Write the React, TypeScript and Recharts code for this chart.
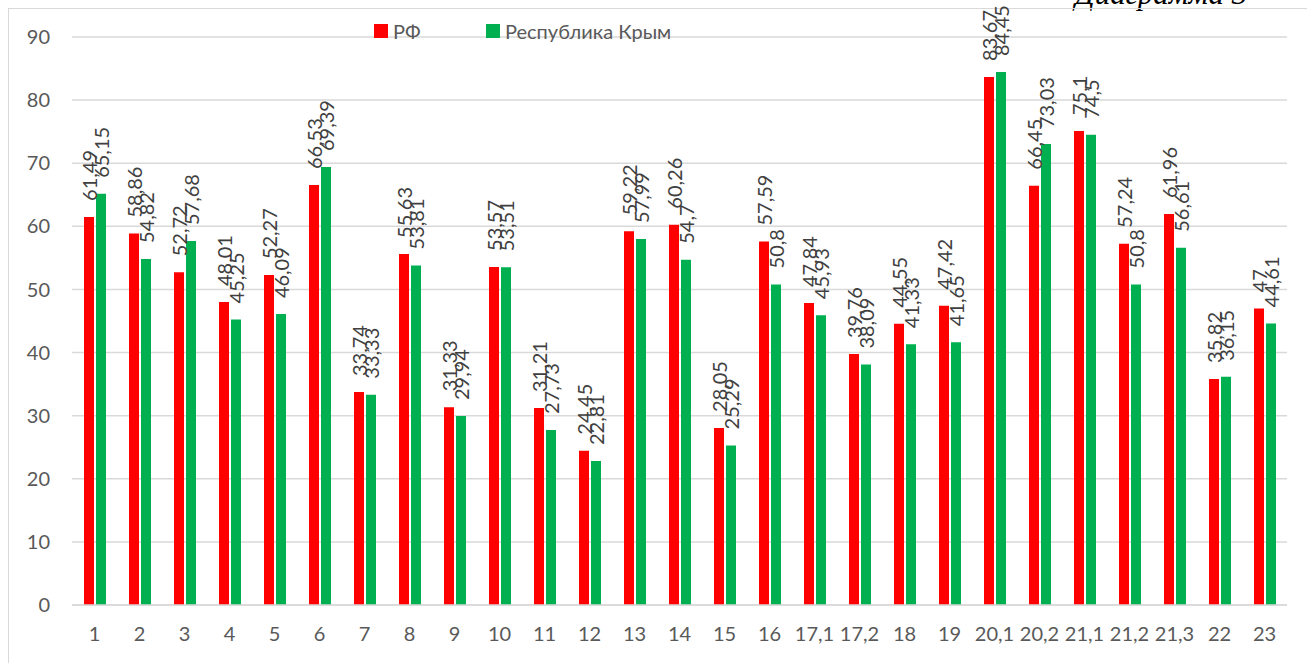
import { Bar, BarChart, CartesianGrid, LabelList, XAxis, YAxis } from "recharts";

const categories = [
  "1", "2", "3", "4", "5", "6", "7", "8", "9", "10", "11", "12", "13", "14", "15", "16",
  "17,1", "17,2", "18", "19", "20,1", "20,2", "21,1", "21,2", "21,3", "22", "23",
];

const rfValues = [
  61.49, 58.86, 52.72, 48.01, 52.27, 66.53, 33.74, 55.63, 31.33, 53.57, 31.21, 24.45, 59.22, 60.26, 28.05, 57.59,
  47.84, 39.76, 44.55, 47.42, 83.67, 66.45, 75.1, 57.24, 61.96, 35.82, 47,
];

const crimeaValues = [
  65.15, 54.82, 57.68, 45.25, 46.09, 69.39, 33.33, 53.81, 29.94, 53.51, 27.73, 22.81, 57.99, 54.7, 25.29, 50.8,
  45.93, 38.09, 41.33, 41.65, 84.45, 73.03, 74.5, 50.8, 56.61, 36.15, 44.61,
];

const yTicks = [0, 10, 20, 30, 40, 50, 60, 70, 80, 90];

const seriesNames = ["РФ", "Республика Крым"];
const RED = "#FF0000";
const GREEN = "#00B050";
const FONT = "Lato, 'Noto Sans', sans-serif";

const data = categories.map((name, i) => ({
  name,
  rf: rfValues[i],
  crimea: crimeaValues[i],
}));

const fmt = (v: number) => String(v).replace(".", ",");

function RotatedLabel(props: any) {
  const { x, y, width, value } = props;
  const cx = x + width / 2;
  const ty = y - 16;
  return (
    <text
      x={cx}
      y={ty}
      transform={`rotate(-90 ${cx} ${ty})`}
      textAnchor="start"
      dominantBaseline="central"
      fontSize={20}
      fontFamily={FONT}
      fill="#404040"
    >
      {fmt(value)}
    </text>
  );
}

// legend sits above the plot without taking space from it, like in the source
function ChartLegend() {
  const colors = [RED, GREEN];
  return (
    <div
      style={{
        position: "absolute",
        left: 374,
        top: 19,
        display: "flex",
        fontFamily: FONT,
        fontSize: 20,
        color: "#595959",
        lineHeight: "24px",
      }}
    >
      {seriesNames.map((n, i) => (
        <div key={n} style={{ display: "flex", alignItems: "center", width: i === 0 ? 112 : "auto" }}>
          <span style={{ width: 14, height: 14, background: colors[i], marginRight: 5, display: "inline-block" }} />
          <span>{n}</span>
        </div>
      ))}
    </div>
  );
}

export default function App() {
  return (
    <div style={{ position: "fixed", left: 0, top: 0, width: 1307, height: 663, overflow: "hidden", background: "#fff" }}>
      <svg style={{ position: "absolute", left: 0, top: 0 }} width={1307} height={20}>
        <text x={1075} y={4} fontFamily="'Liberation Serif', serif" fontStyle="italic" fontSize={31} fill="#000">
          Диаграмма 3
        </text>
      </svg>
      <div
        style={{
          position: "absolute",
          left: 8,
          top: 8,
          width: 1330,
          height: 700,
          border: "1.5px solid #d9d9d9",
        }}
      />
      <div style={{ position: "absolute", left: 0, top: 0 }}>
        <BarChart
          width={1307}
          height={663}
          data={data}
          margin={{ top: 37, right: 20, left: 0, bottom: 0 }}
          barCategoryGap="25%"
          barGap={2}
        >
          <CartesianGrid vertical={false} stroke="#d9d9d9" strokeWidth={1.5} />
          <XAxis
            dataKey="name"
            interval={0}
            tickLine={false}
            tickSize={0}
            tickMargin={22}
            height={58}
            axisLine={{ stroke: "#d9d9d9", strokeWidth: 1.5 }}
            tick={{ fill: "#595959", fontSize: 20, fontFamily: FONT }}
          />
          <YAxis
            width={72}
            domain={[0, 90]}
            ticks={yTicks}
            interval={0}
            tickLine={false}
            tickSize={0}
            tickMargin={22}
            axisLine={false}
            tick={{ fill: "#595959", fontSize: 20, fontFamily: FONT }}
          />
          <Bar dataKey="rf" name={seriesNames[0]} fill={RED} barSize={10} isAnimationActive={false}>
            <LabelList dataKey="rf" content={RotatedLabel} />
          </Bar>
          <Bar dataKey="crimea" name={seriesNames[1]} fill={GREEN} barSize={10} isAnimationActive={false}>
            <LabelList dataKey="crimea" content={RotatedLabel} />
          </Bar>
        </BarChart>
      </div>
      <ChartLegend />
    </div>
  );
}
